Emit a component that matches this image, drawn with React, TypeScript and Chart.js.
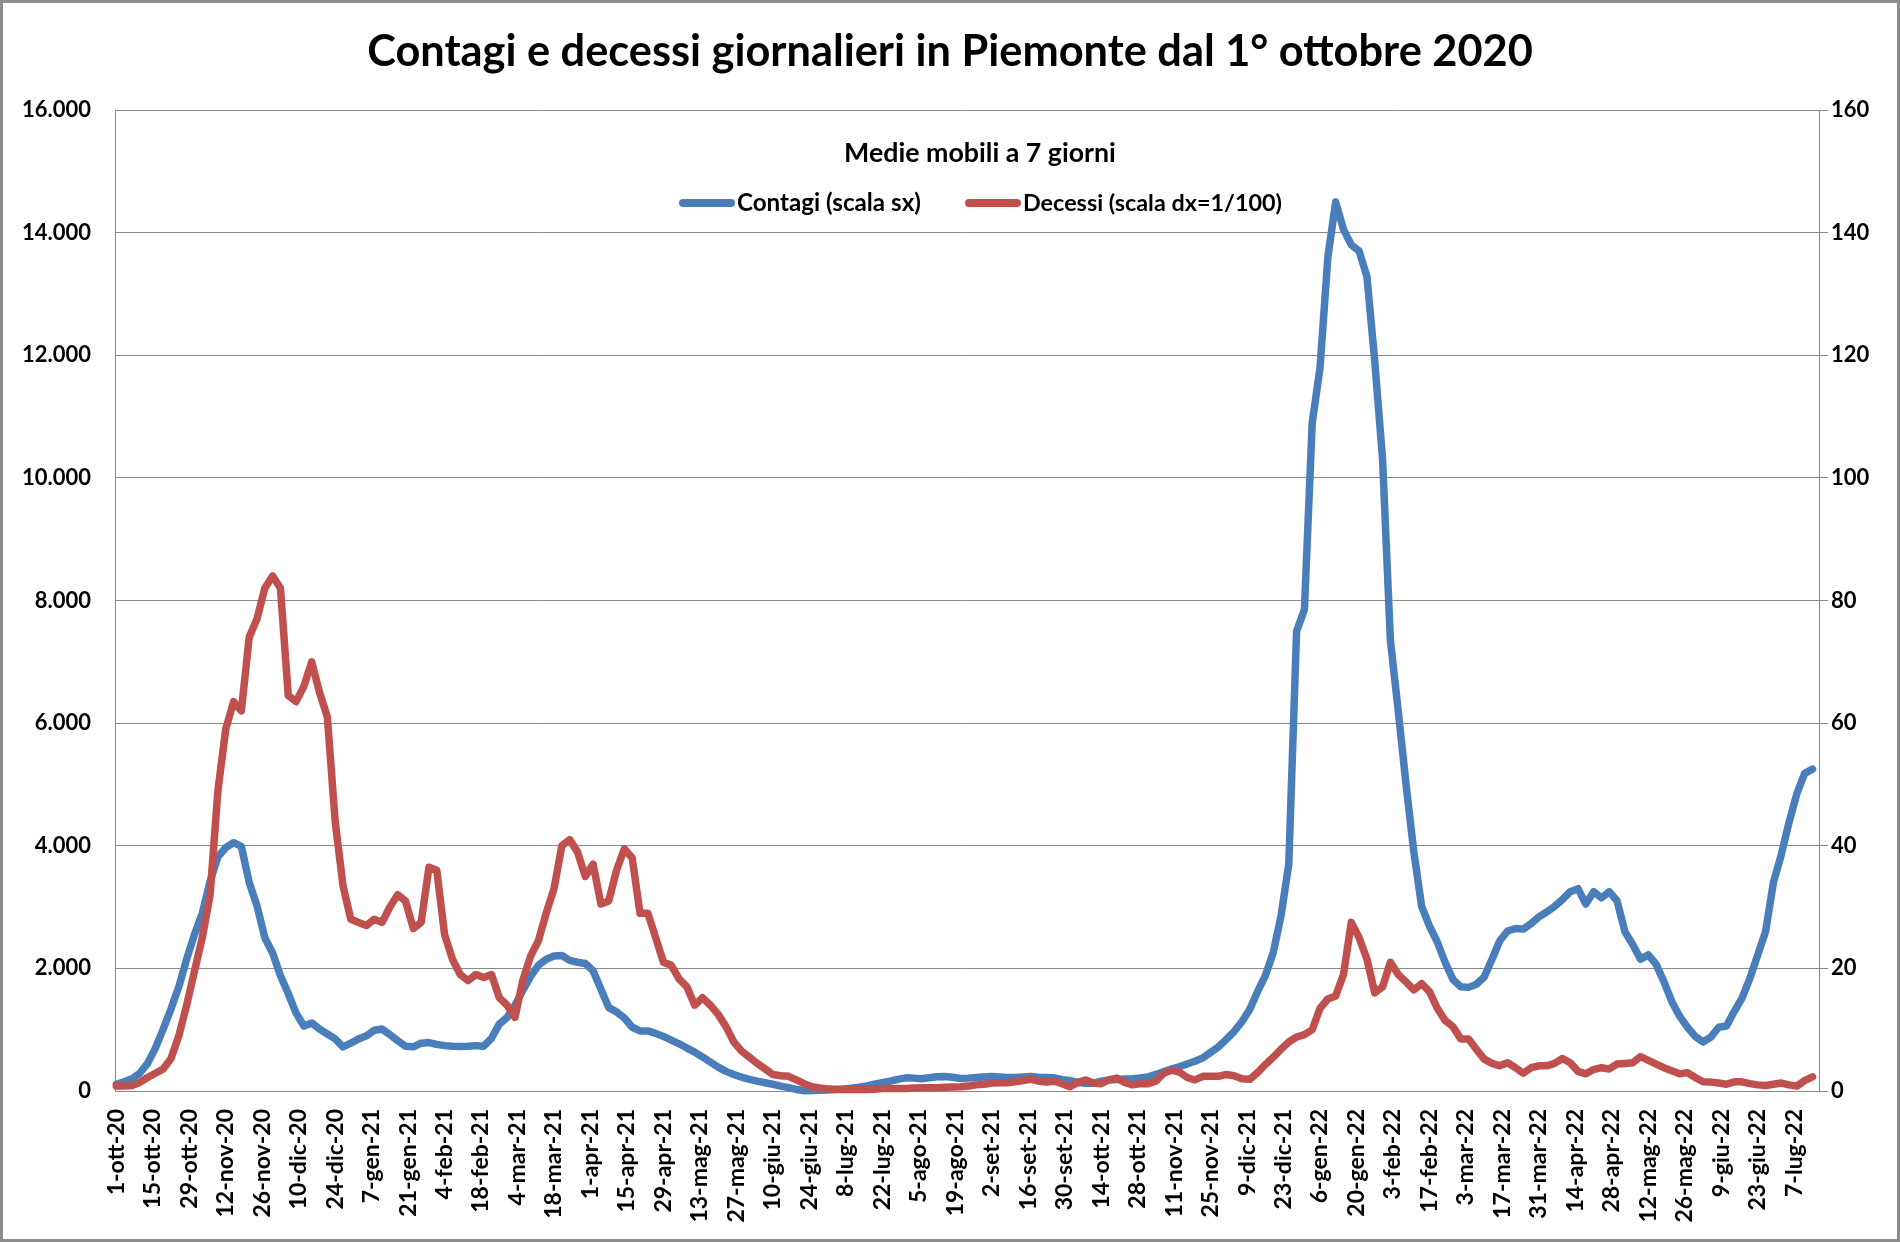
import React, { useEffect, useRef } from "react";
import { Chart, registerables } from "chart.js";

Chart.register(...registerables);

// ---- data (7-day moving averages, one value every 3 days from 1-ott-20) ----
const START_DAY = 0;
const STEP_DAYS = 3;
const TICK_EVERY = 14;

const TITLE = "Contagi e decessi giornalieri in Piemonte dal 1° ottobre 2020";
const SUBTITLE = "Medie mobili a 7 giorni";
const SERIES_NAMES = ["Contagi (scala sx)", "Decessi (scala dx=1/100)"];

const tickLabels = [
  "1-ott-20", "15-ott-20", "29-ott-20", "12-nov-20", "26-nov-20", "10-dic-20", "24-dic-20",
  "7-gen-21", "21-gen-21", "4-feb-21", "18-feb-21", "4-mar-21", "18-mar-21", "1-apr-21",
  "15-apr-21", "29-apr-21", "13-mag-21", "27-mag-21", "10-giu-21", "24-giu-21", "8-lug-21",
  "22-lug-21", "5-ago-21", "19-ago-21", "2-set-21", "16-set-21", "30-set-21", "14-ott-21",
  "28-ott-21", "11-nov-21", "25-nov-21", "9-dic-21", "23-dic-21", "6-gen-22", "20-gen-22",
  "3-feb-22", "17-feb-22", "3-mar-22", "17-mar-22", "31-mar-22", "14-apr-22", "28-apr-22",
  "12-mag-22", "26-mag-22", "9-giu-22", "23-giu-22", "7-lug-22",
];

// Contagi (left scale)
const contagi = [
  110, 150, 200, 290, 450, 700, 1010, 1340, 1700, 2150,
  2550, 2900, 3420, 3820, 3970, 4050, 3990, 3400, 3020, 2500,
  2250, 1880, 1590, 1270, 1060, 1110, 1010, 930, 850, 720,
  780, 850, 900, 990, 1010, 920, 820, 730, 720, 780,
  790, 760, 740, 730, 725, 730, 740, 730, 860, 1090,
  1200, 1400, 1640, 1870, 2050, 2150, 2200, 2210, 2130, 2100,
  2080, 1960, 1660, 1360, 1290, 1190, 1040, 980, 980, 940,
  890, 830, 770, 700, 635, 555, 470, 390, 320, 270,
  225, 190, 160, 135, 110, 80, 55, 25, 5, 8,
  12, 18, 25, 33, 45, 62, 82, 110, 135, 160,
  190, 215, 210, 200, 215, 232, 235, 225, 205, 210,
  220, 228, 235, 230, 222, 222, 230, 235, 225, 220,
  215, 185, 170, 140, 125, 125, 160, 180, 188, 195,
  200, 212, 230, 270, 315, 360, 395, 440, 485, 540,
  630, 720, 840, 970, 1130, 1330, 1620, 1880, 2250, 2850,
  3700, 7500, 7850, 10900, 11800, 13600, 14500, 14050, 13800, 13700,
  13280, 11900, 10300, 7350, 6200, 5000, 3900, 3010, 2690, 2430,
  2100, 1820, 1700, 1690, 1740, 1860, 2150, 2450, 2610, 2650,
  2640, 2730, 2840, 2920, 3010, 3120, 3250, 3300, 3050, 3250,
  3150, 3250, 3100, 2600, 2390, 2150, 2220, 2065, 1780, 1460,
  1220, 1040, 890, 800, 880, 1040, 1060, 1300, 1520, 1840,
  2220, 2600, 3400, 3850, 4380, 4850, 5180, 5250,
];

// Decessi (right scale)
const decessi = [
  0.8, 0.8, 0.9, 1.4, 2.2, 2.9, 3.6, 5.3, 9.0, 14.0,
  19.5, 25.0, 32.0, 49.0, 59.0, 63.5, 62.0, 74.0, 77.0, 82.0,
  84.0, 82.0, 64.5, 63.5, 66.0, 70.0, 65.0, 61.0, 44.0, 33.5,
  28.0, 27.5, 27.0, 28.0, 27.5, 30.0, 32.0, 31.0, 26.5, 27.5,
  36.5, 36.0, 25.5, 21.5, 19.0, 18.0, 19.0, 18.5, 19.0, 15.2,
  14.0, 12.0, 18.0, 22.0, 24.5, 29.0, 33.0, 40.0, 41.0, 39.0,
  35.0, 37.0, 30.5, 31.0, 36.0, 39.5, 38.0, 29.0, 29.0, 25.0,
  21.0, 20.5, 18.3, 17.0, 14.0, 15.2, 14.0, 12.5, 10.5, 8.0,
  6.5, 5.5, 4.5, 3.6, 2.7, 2.5, 2.4, 1.8, 1.2, 0.7,
  0.5, 0.35, 0.25, 0.25, 0.25, 0.25, 0.25, 0.3, 0.4, 0.4,
  0.4, 0.4, 0.5, 0.55, 0.55, 0.55, 0.6, 0.65, 0.7, 0.8,
  1.0, 1.1, 1.3, 1.35, 1.35, 1.5, 1.7, 1.9, 1.6, 1.45,
  1.6, 1.2, 0.7, 1.4, 1.8, 1.3, 1.2, 1.8, 2.1, 1.4,
  1.0, 1.2, 1.2, 1.6, 2.9, 3.4, 3.1, 2.2, 1.8, 2.4,
  2.4, 2.4, 2.7, 2.5, 2.0, 1.9, 3.0, 4.3, 5.5, 6.8,
  8.0, 8.8, 9.2, 10.0, 13.5, 15.0, 15.5, 19.0, 27.5, 25.0,
  21.5, 16.0, 17.0, 21.0, 19.0, 17.8, 16.5, 17.5, 16.2, 13.5,
  11.5, 10.5, 8.5, 8.5, 6.8, 5.2, 4.5, 4.1, 4.6, 3.8,
  2.9, 3.8, 4.1, 4.1, 4.5, 5.3, 4.6, 3.2, 2.8, 3.5,
  3.8, 3.6, 4.4, 4.5, 4.6, 5.6, 5.0, 4.4, 3.8, 3.3,
  2.8, 3.0, 2.2, 1.5, 1.45, 1.3, 1.1, 1.5, 1.5, 1.2,
  1.0, 0.9, 1.1, 1.3, 1.0, 0.8, 1.7, 2.3,
];

// ---- styling ----
const BLUE = "#4a7ebb";
const RED = "#c0504d";
const GRID = "#898989";
const TEXT_FONT = "Lato, 'Noto Sans', sans-serif";
const LINE_W = 7.5;

function fmtThousands(v: number): string {
  if (v === 0) return "0";
  return String(Math.round(v)).replace(/\B(?=(\d{3})+(?!\d))/g, ".");
}

function drawFitted(
  ctx: CanvasRenderingContext2D,
  text: string,
  x: number,
  y: number,
  targetW: number,
  maxSize: number,
  align: CanvasTextAlign
) {
  ctx.font = `bold 100px ${TEXT_FONT}`;
  const w = ctx.measureText(text).width;
  const size = Math.min(maxSize, (100 * targetW) / w);
  ctx.font = `bold ${size}px ${TEXT_FONT}`;
  ctx.textAlign = align;
  ctx.textBaseline = "alphabetic";
  ctx.fillStyle = "#000";
  ctx.fillText(text, x, y);
}

const LEGEND_LAYOUT = [
  { x0: 679, x1: 735, tx: 737, tw: 184 },
  { x0: 965, x1: 1021, tx: 1023, tw: 259 },
];

const decorPlugin = {
  id: "decor",
  beforeDraw(chart: any) {
    const ctx = chart.ctx as CanvasRenderingContext2D;
    ctx.save();
    ctx.fillStyle = "#ffffff";
    ctx.fillRect(0, 0, chart.width, chart.height);
    ctx.restore();
  },
  afterDraw(chart: any) {
    const ctx = chart.ctx as CanvasRenderingContext2D;
    ctx.save();
    // outer frame
    ctx.strokeStyle = "#8c8c8c";
    ctx.lineWidth = 3;
    ctx.strokeRect(1.5, 1.5, chart.width - 3, chart.height - 3);
    // title & subtitle
    drawFitted(ctx, TITLE, 950, 66, 1166, 46, "center");
    drawFitted(ctx, SUBTITLE, 980, 162, 272, 27, "center");
    // legend
    chart.data.datasets.forEach((ds: any, i: number) => {
      const L = LEGEND_LAYOUT[i];
      ctx.strokeStyle = ds.borderColor;
      ctx.lineWidth = 8;
      ctx.lineCap = "round";
      ctx.beginPath();
      ctx.moveTo(L.x0 + 4, 203);
      ctx.lineTo(L.x1 - 4, 203);
      ctx.stroke();
      drawFitted(ctx, ds.label, L.tx, 211, L.tw, 25, "left");
    });
    ctx.restore();
  },
};

export default function App() {
  const ref = useRef<HTMLCanvasElement>(null);

  useEffect(() => {
    const canvas = ref.current;
    if (!canvas) return;
    const contagiPts = contagi.map((v, i) => ({ x: START_DAY + i * STEP_DAYS, y: v }));
    const decessiPts = decessi.map((v, i) => ({ x: START_DAY + i * STEP_DAYS, y: v }));
    const yTickFont = { family: TEXT_FONT, size: 22, weight: "bold" as const };
    const xTickFont = { family: TEXT_FONT, size: 23, weight: "bold" as const };

    const chart = new Chart(canvas, {
      type: "line",
      data: {
        datasets: [
          {
            label: SERIES_NAMES[0],
            data: contagiPts,
            yAxisID: "y",
            borderColor: BLUE,
            backgroundColor: BLUE,
            borderWidth: LINE_W,
            pointRadius: 0,
            tension: 0,
            borderJoinStyle: "round",
            borderCapStyle: "round",
            order: 2,
            clip: false as any,
          },
          {
            label: SERIES_NAMES[1],
            data: decessiPts,
            yAxisID: "y2",
            borderColor: RED,
            backgroundColor: RED,
            borderWidth: LINE_W,
            pointRadius: 0,
            tension: 0,
            borderJoinStyle: "round",
            borderCapStyle: "round",
            order: 1,
            clip: false as any,
          },
        ],
      },
      options: {
        responsive: false,
        animation: false,
        devicePixelRatio: 1,
        events: [],
        layout: { padding: { top: 110, left: 0, right: 0, bottom: 0 } },
        plugins: {
          legend: { display: false },
          title: { display: false },
          tooltip: { enabled: false },
        },
        scales: {
          x: {
            type: "linear",
            position: "bottom",
            min: -0.5,
            max: 653.5,
            grid: { display: false, drawTicks: false },
            border: { display: true, color: GRID, width: 1 },
            afterBuildTicks: (axis: any) => {
              axis.ticks = tickLabels.map((_, i) => ({ value: i * TICK_EVERY }));
            },
            afterFit: (axis: any) => {
              axis.height = 151;
            },
            ticks: {
              autoSkip: false,
              maxRotation: 90,
              minRotation: 90,
              padding: 18,
              color: "#000",
              font: xTickFont,
              callback: (v: any) => tickLabels[Math.round(Number(v) / TICK_EVERY)] ?? "",
            },
          },
          y: {
            position: "left",
            min: 0,
            max: 16000,
            grid: { color: GRID, lineWidth: 1, drawTicks: false },
            border: { display: true, color: GRID, width: 1 },
            afterFit: (axis: any) => {
              axis.width = 115;
            },
            ticks: {
              stepSize: 2000,
              padding: 24,
              color: "#000",
              font: yTickFont,
              callback: (v: any) => fmtThousands(Number(v)),
            },
          },
          y2: {
            position: "right",
            min: 0,
            max: 160,
            grid: { drawOnChartArea: false, drawTicks: true, tickLength: 9, color: GRID },
            border: { display: true, color: GRID, width: 1 },
            afterFit: (axis: any) => {
              axis.width = 81;
            },
            ticks: {
              stepSize: 20,
              padding: 3,
              color: "#000",
              font: yTickFont,
              callback: (v: any) => String(v),
            },
          },
        },
      },
      plugins: [decorPlugin],
    } as any);

    return () => chart.destroy();
  }, []);

  return (
    <div style={{ position: "fixed", left: 0, top: 0, width: 1900, height: 1242, background: "#fff" }}>
      <canvas ref={ref} width={1900} height={1242} style={{ display: "block", width: 1900, height: 1242 }} />
    </div>
  );
}
